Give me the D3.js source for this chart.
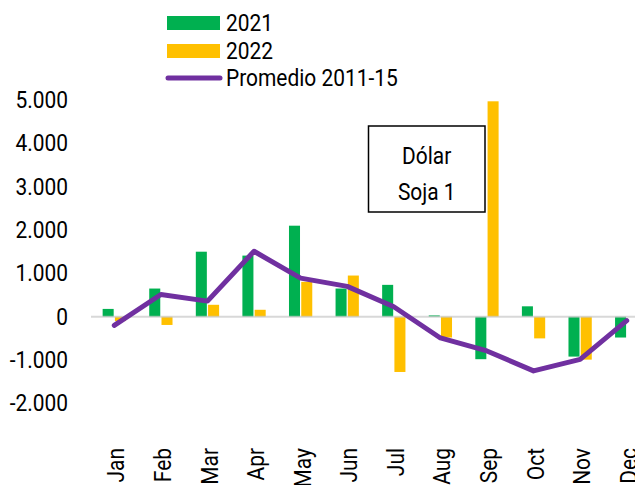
<!DOCTYPE html>
<html>
<head>
<meta charset="utf-8">
<script src="https://cdn.jsdelivr.net/npm/d3@7"></script>
<style>
  body { margin: 0; background: #fff; }
  svg text { font-family: Roboto, "Noto Sans", sans-serif; fill: #000; }
</style>
</head>
<body>
<div id="chart"></div>
<script>
// Data
const months = ["Jan", "Feb", "Mar", "Apr", "May", "Jun", "Jul", "Aug", "Sep", "Oct", "Nov", "Dec"];
const series2021 = [180, 650, 1500, 1410, 2100, 650, 735, 30, -980, 240, -920, -480];
const series2022 = [-100, -190, 275, 160, 805, 950, -1275, -480, 4970, -500, -990, 0];
const promedio = [-200, 513, 360, 1510, 890, 700, 230, -490, -790, -1250, -985, -90];
const yTicks = [-2000, -1000, 0, 1000, 2000, 3000, 4000, 5000];
const seriesNames = ["2021", "2022", "Promedio 2011-15"];
const boxLines = ["Dólar", "Soja 1"];

const width = 635;
const height = 485;
const colors = { "2021": "#00B050", "2022": "#FFC000", line: "#7030A0" };
// narrow the font a bit to mimic the condensed face of the original
const squeeze = "scale(0.91,1)";
const fontSize = "23px";

const svg = d3.select("#chart")
    .append("svg")
    .attr("width", width)
    .attr("height", height);

// Scales
const x = d3.scaleBand()
    .domain(months)
    .range([91, 650])
    .paddingInner(0.5)
    .paddingOuter(0.25);

const x1 = d3.scaleBand()
    .domain(["2021", "2022"])
    .range([0, x.bandwidth()])
    .paddingInner(0.1);

const y = d3.scaleLinear()
    .domain([-2000, 5000])
    .range([403.4, 100]);

const locale = d3.formatLocale({ decimal: ",", thousands: ".", grouping: [3], currency: ["", ""], minus: "-" });
const fmt = locale.format(",.0f");

// Y axis (labels only)
const yAxis = svg.append("g")
    .attr("transform", "translate(68,0)")
    .call(d3.axisLeft(y).tickValues(yTicks).tickFormat(fmt).tickSize(0).tickPadding(0));
yAxis.select(".domain").remove();
yAxis.selectAll("text")
    .attr("x", 0)
    .attr("transform", squeeze)
    .attr("font-size", fontSize)
    .attr("font-family", "Roboto, sans-serif")
    .attr("fill", "#000");

// Bars
const rows = months.map((m, i) => ({ month: m, values: [
    { key: "2021", value: series2021[i] },
    { key: "2022", value: series2022[i] }
] }));

const groups = svg.append("g").selectAll("g")
    .data(rows)
    .enter().append("g")
    .attr("transform", d => `translate(${x(d.month)},0)`);

groups.selectAll("rect")
    .data(d => d.values.filter(v => v.value !== 0))
    .enter().append("rect")
    .attr("x", d => x1(d.key))
    .attr("width", x1.bandwidth())
    .attr("y", d => y(Math.max(0, d.value)))
    .attr("height", d => Math.abs(y(d.value) - y(0)))
    .attr("fill", d => colors[d.key]);

// Zero line
svg.append("line")
    .attr("x1", 91)
    .attr("x2", width)
    .attr("y1", y(0))
    .attr("y2", y(0))
    .attr("stroke", "#c8c8c8")
    .attr("stroke-opacity", 0.7)
    .attr("stroke-width", 2);

// Average line
const line = d3.line()
    .x((d, i) => x(months[i]) + x.bandwidth() / 2)
    .y(d => y(d));

svg.append("path")
    .datum(promedio)
    .attr("d", line)
    .attr("fill", "none")
    .attr("stroke", colors.line)
    .attr("stroke-width", 5)
    .attr("stroke-linejoin", "round")
    .attr("stroke-linecap", "round");

// Month labels (rotated)
svg.append("g").selectAll("text")
    .data(months)
    .enter().append("text")
    .attr("transform", d => `translate(${x(d) + x.bandwidth() / 2 + 2},448) rotate(-90) ${squeeze}`)
    .attr("text-anchor", "end")
    .attr("dy", "0.35em")
    .attr("font-size", fontSize)
    .text(d => d);

// Legend
const legend = svg.append("g");
const legendY = [23, 51, 78];
seriesNames.forEach((name, i) => {
    if (i < 2) {
        legend.append("rect")
            .attr("x", 167)
            .attr("y", legendY[i] - 7)
            .attr("width", 53)
            .attr("height", 14)
            .attr("fill", colors[name]);
    } else {
        legend.append("line")
            .attr("x1", 168).attr("x2", 220)
            .attr("y1", legendY[i]).attr("y2", legendY[i])
            .attr("stroke", colors.line)
            .attr("stroke-width", 5)
            .attr("stroke-linecap", "round");
    }
    legend.append("text")
        .attr("transform", `translate(226,${legendY[i]}) ${squeeze}`)
        .attr("dy", "0.36em")
        .attr("font-size", fontSize)
        .text(name);
});

// Annotation box
const box = svg.append("g");
box.append("rect")
    .attr("x", 368.5)
    .attr("y", 126)
    .attr("width", 116.5)
    .attr("height", 86)
    .attr("fill", "#fff")
    .attr("stroke", "#000")
    .attr("stroke-width", 1.5);
boxLines.forEach((t, i) => {
    box.append("text")
        .attr("transform", `translate(426.7,${163.5 + i * 36}) ${squeeze}`)
        .attr("text-anchor", "middle")
        .attr("font-size", fontSize)
        .text(t);
});
</script>
</body>
</html>
